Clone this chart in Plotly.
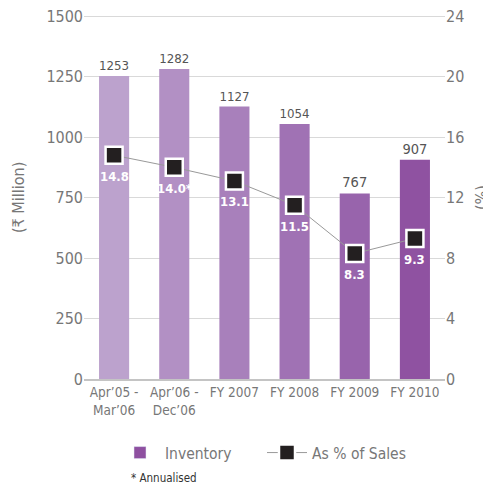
import plotly.graph_objects as go

categories = ["Apr’05 -<br>Mar’06", "Apr’06 -<br>Dec’06", "FY 2007", "FY 2008", "FY 2009", "FY 2010"]
inventory = [1253, 1282, 1127, 1054, 767, 907]
pct_sales = [14.8, 14.0, 13.1, 11.5, 8.3, 9.3]
pct_labels = ["14.8", "14.0*", "13.1", "11.5", "8.3", "9.3"]
bar_colors = ["#bca2cd", "#b290c4", "#a880bb", "#a072b4", "#9864ac", "#8f52a1"]

FONT = "Liberation Sans Narrow, DejaVu Sans Condensed, Roboto, sans-serif"

# page body has an 8px default margin; compensate so the plot lands where the reference has it
PAGE_OFF = 8
PLOT_L, PLOT_R, PLOT_T, PLOT_B = 84, 445, 15, 379
W, H = 491 - PAGE_OFF, 489 - PAGE_OFF
PW, PH = PLOT_R - PLOT_L, PLOT_B - PLOT_T

fig = go.Figure()
fig.add_trace(go.Bar(
    x=categories, y=inventory, name="Inventory",
    marker=dict(color=bar_colors, line=dict(width=0)),
    text=[str(v) for v in inventory], textposition="outside",
    textfont=dict(family=FONT, size=14.5, color="#555555"),
    cliponaxis=False, yaxis="y", showlegend=False,
))
fig.add_trace(go.Bar(
    x=[None], y=[None], name="Inventory", marker=dict(color="#8e50a0"),
    showlegend=True,
))
fig.add_trace(go.Scatter(
    x=categories, y=pct_sales, name="As % of Sales", yaxis="y2",
    mode="lines+markers",
    line=dict(color="#999999", width=1),
    marker=dict(symbol="square", size=17, color="#231f20", line=dict(color="white", width=2.5)),
    cliponaxis=False,
))

annotations = [
    dict(text=lbl, x=c, y=v, xref="x", yref="y2", showarrow=False, yshift=-21,
         font=dict(family=FONT, size=13, color="white", weight="bold"))
    for c, v, lbl in zip(categories, pct_sales, pct_labels)
]
annotations += [
    dict(text="(₹ Million)", x=(18 - PLOT_L) / PW, xref="paper", y=(PLOT_B - 198) / PH, yref="paper",
         showarrow=False, textangle=-90, font=dict(family=FONT, size=16, color="#777777"),
         xanchor="center", yanchor="middle"),
    dict(text="(%)", x=(481 - PLOT_L) / PW, xref="paper", y=(PLOT_B - 198) / PH, yref="paper",
         showarrow=False, textangle=-90, font=dict(family=FONT, size=16, color="#777777"),
         xanchor="center", yanchor="middle"),
    dict(text="* Annualised", x=(129 - PLOT_L) / PW, xref="paper", y=(PLOT_B - 478) / PH, yref="paper",
         showarrow=False, xanchor="left", yanchor="middle",
         font=dict(family=FONT, size=11.5, color="#333333")),
]

fig.update_layout(
    width=W, height=H,
    margin=dict(l=PLOT_L - PAGE_OFF, r=W - (PLOT_R - PAGE_OFF), t=PLOT_T - PAGE_OFF,
                b=H - (PLOT_B - PAGE_OFF), autoexpand=False),
    paper_bgcolor="white", plot_bgcolor="white",
    barmode="overlay", bargap=0.5,
    font=dict(family=FONT, color="#777777"),
    showlegend=True,
    legend=dict(orientation="h", x=(115 - PLOT_L) / PW, xanchor="left", y=(PLOT_B - 453) / PH,
                yanchor="middle", font=dict(family=FONT, size=15.5, color="#777777"),
                itemwidth=40, entrywidth=92, entrywidthmode="pixels", traceorder="normal"),
    xaxis=dict(showgrid=False, showline=True, linecolor="#c4c4c4", linewidth=1.5, automargin=False,
               ticks="", tickfont=dict(family=FONT, size=13.5, color="#777777")),
    yaxis=dict(range=[0, 1505], tickvals=[0, 250, 500, 750, 1000, 1250, 1500],
               showgrid=True, gridcolor="#d9d9d9", gridwidth=1, ticklabeloverflow="allow",
               zeroline=False, showline=False, automargin=False,
               tickfont=dict(family=FONT, size=16, color="#777777"), ticklen=6, tickcolor="white"),
    yaxis2=dict(range=[0, 24.08], tickvals=[0, 4, 8, 12, 16, 20, 24], overlaying="y", side="right",
                showgrid=False, zeroline=False, showline=False, automargin=False,
                ticklabeloverflow="allow",
                tickfont=dict(family=FONT, size=16, color="#777777"), ticklen=6, tickcolor="white"),
    annotations=annotations,
)

fig.write_html("out.html")
